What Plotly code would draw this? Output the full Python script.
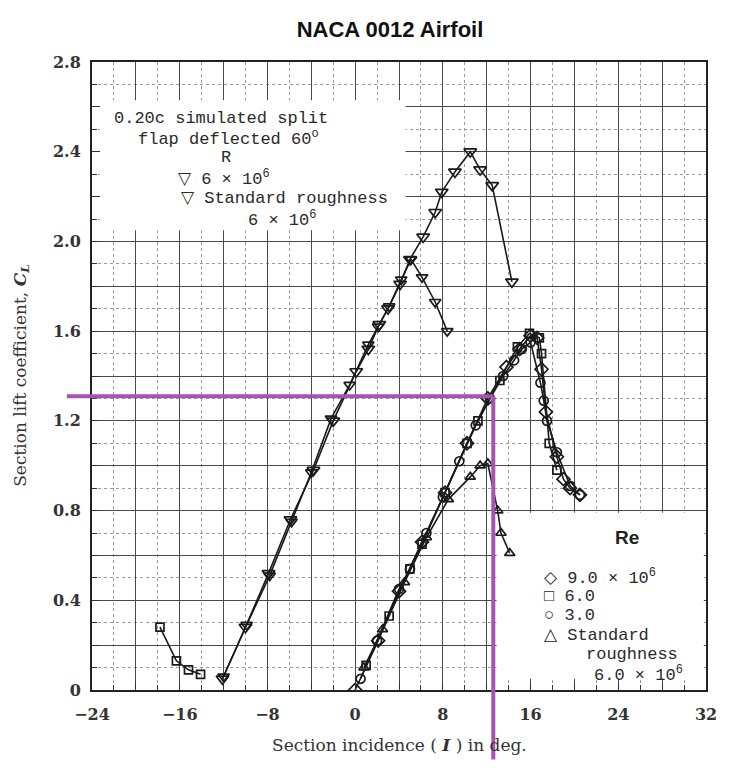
import plotly.graph_objects as go

# ---------------- data ----------------
# 0.20c split flap deflected 60 deg, R = 6e6 (smooth)
flap_alpha = [-12.1, -10.0, -7.9, -5.9, -3.8, -2.0, 0.1, 1.2, 2.2, 3.0, 4.1, 5.0, 6.2, 7.3, 7.9, 9.1, 10.5, 11.4, 12.5, 14.3]
flap_cl = [0.05, 0.28, 0.52, 0.76, 0.98, 1.20, 1.42, 1.52, 1.63, 1.70, 1.81, 1.92, 2.02, 2.13, 2.22, 2.31, 2.40, 2.32, 2.25, 1.82]
# flap, standard roughness 6e6
flapr_alpha = [-12.0, -9.9, -7.8, -5.8, -4.0, -2.2, -0.5, 1.2, 2.1, 3.1, 4.2, 5.1, 6.1, 7.3, 8.4]
flapr_cl = [0.06, 0.29, 0.51, 0.75, 0.97, 1.21, 1.36, 1.54, 1.62, 1.71, 1.83, 1.92, 1.84, 1.73, 1.60]

# plain airfoil
re9_alpha = [0.0, 2.1, 4.0, 6.1, 8.2, 10.2, 12.1, 13.8, 15.0, 16.0, 16.6, 17.0, 17.4, 18.4, 19.0, 19.6, 20.5]
re9_cl = [0.0, 0.22, 0.44, 0.66, 0.88, 1.10, 1.30, 1.44, 1.52, 1.58, 1.57, 1.43, 1.24, 1.04, 0.94, 0.90, 0.87]
re6_alpha = [-17.8, -16.3, -15.2, -14.1, None, 1.0, 3.1, 5.0, 6.1, 8.2, 10.2, 11.2, 13.2, 14.8, 15.9, 16.8, 17.0, 17.7, 18.4]
re6_cl = [0.28, 0.13, 0.09, 0.07, None, 0.11, 0.33, 0.54, 0.65, 0.88, 1.10, 1.20, 1.38, 1.53, 1.59, 1.57, 1.50, 1.10, 0.98]
re3_alpha = [0.5, 2.0, 4.0, 5.0, 6.5, 8.0, 9.5, 11.0, 12.3, 13.5, 14.5, 15.2, 16.0, 16.9, 17.2, 17.5, 18.4, 19.6, 20.5]
re3_cl = [0.05, 0.22, 0.45, 0.54, 0.70, 0.86, 1.02, 1.18, 1.30, 1.40, 1.47, 1.52, 1.55, 1.37, 1.29, 1.20, 1.06, 0.91, 0.87]
rough_alpha = [0.8, 2.5, 4.5, 6.5, 8.5, 10.5, 11.4, 12.1, 13.0, 13.3, 14.1]
rough_cl = [0.10, 0.27, 0.48, 0.68, 0.85, 0.95, 1.00, 1.01, 0.80, 0.70, 0.61]

x_ticks = [-24, -16, -8, 0, 8, 16, 24, 32]
x_ticklabels = ["\u221224", "\u221216", "\u22128", "0", "8", "16", "24", "32"]
y_ticks = [0, 0.4, 0.8, 1.2, 1.6, 2.0, 2.4, 2.8]
y_ticklabels = ["0", "0.4", "0.8", "1.2", "1.6", "2.0", "2.4", "2.8"]

# highlighted reading (purple lines)
mark_alpha = 12.6
mark_cl = 1.31

X_RANGE = [-24, 32]
Y_RANGE = [0, 2.8]

# ---------------- figure ----------------
ink = "#1a1a1a"
fig = go.Figure()

def add(xs, ys, symbol, size=10, name=""):
    fig.add_trace(go.Scatter(
        x=xs, y=ys, mode="lines+markers", name=name,
        line=dict(color=ink, width=1.6),
        marker=dict(symbol=symbol, size=size, color=ink,
                    line=dict(color=ink, width=1.7)),
        showlegend=False, connectgaps=False))

add(flap_alpha, flap_cl, "triangle-down-open", 11, "flap 6e6")
add(flapr_alpha, flapr_cl, "triangle-down-open", 10, "flap rough")
add(re9_alpha, re9_cl, "diamond-open", 10, "9e6")
add(re6_alpha, re6_cl, "square-open", 8, "6e6")
add(re3_alpha, re3_cl, "circle-open", 9, "3e6")
add(rough_alpha, rough_cl, "triangle-up-open", 9, "rough")

# grid tick positions
major_x = list(range(-24, 33, 4))
major_y = [round(0.2 * i, 1) for i in range(15)]
minor_x = [v for v in range(-24, 33, 2) if v % 4 != 0]
minor_y = [round(0.1 * i, 1) for i in range(29) if i % 2 == 1]

xlab = {v: t for v, t in zip(x_ticks, x_ticklabels)}
ylab = {v: t for v, t in zip(y_ticks, y_ticklabels)}

tickfont = dict(family="DejaVu Serif", size=16, color="#333")

def bold(t):
    return "<b>" + t + "</b>" if t else ""

fig.update_xaxes(
    range=X_RANGE, tickmode="array", tickvals=major_x,
    ticktext=[bold(xlab.get(v, "")) for v in major_x],
    showgrid=True, gridcolor="#4a4a4a", gridwidth=1.4,
    minor=dict(tickvals=minor_x, showgrid=True, gridcolor="#9a9a9a",
               griddash="dot", gridwidth=1, ticks="inside", ticklen=5, tickcolor="#333"),
    ticks="inside", ticklen=8, tickcolor="#333",
    showline=True, linecolor="#222", linewidth=2, mirror=True,
    zeroline=False, tickfont=tickfont, ticklabelstandoff=9)
fig.update_yaxes(
    range=Y_RANGE, tickmode="array", tickvals=major_y,
    ticktext=[bold(ylab.get(v, "")) for v in major_y],
    showgrid=True, gridcolor="#4a4a4a", gridwidth=1.4,
    minor=dict(tickvals=minor_y, showgrid=True, gridcolor="#9a9a9a",
               griddash="dot", gridwidth=1, ticks="inside", ticklen=5, tickcolor="#333"),
    ticks="inside", ticklen=8, tickcolor="#333",
    showline=True, linecolor="#222", linewidth=2, mirror=True,
    zeroline=False, tickfont=tickfont, ticklabelstandoff=6)

# white text boxes over the grid (between grid and traces)
fig.add_shape(type="rect", xref="x", yref="y", x0=-23.3, x1=4.6, y0=2.05, y1=2.63,
              fillcolor="white", line_width=0, layer="between")
fig.add_shape(type="rect", xref="x", yref="y", x0=12.9, x1=31.8, y0=0.05, y1=0.79,
              fillcolor="white", line_width=0, layer="between")

# purple marker lines (paper coords derived from axis ranges)
def px(a):
    return (a - X_RANGE[0]) / (X_RANGE[1] - X_RANGE[0])
def py(c):
    return (c - Y_RANGE[0]) / (Y_RANGE[1] - Y_RANGE[0])

purple = "#a555b0"
fig.add_shape(type="line", xref="paper", yref="paper",
              x0=px(-26.3), x1=px(mark_alpha), y0=py(mark_cl), y1=py(mark_cl),
              line=dict(color=purple, width=4), layer="above")
fig.add_shape(type="line", xref="paper", yref="paper",
              x0=px(mark_alpha), x1=px(mark_alpha), y0=py(mark_cl), y1=py(-0.31),
              line=dict(color=purple, width=4), layer="above")

mono = dict(family="Liberation Mono", size=17, color="#2a2a2a")

def note(x, y, text, anchor="left", font=mono):
    fig.add_annotation(x=x, y=y, xref="x", yref="y", text=text, showarrow=False,
                       xanchor=anchor, yanchor="middle", font=font)

note(-22.2, 2.55, "0.20c simulated split")
note(-20.0, 2.46, "flap deflected 60<sup>o</sup>")
note(-11.8, 2.375, "R", anchor="center")
note(-16.3, 2.285, "\u25bd 6 \u00d7 10<sup>6</sup>")
note(-16.1, 2.19, "\u25bd Standard roughness")
note(-10.0, 2.10, "6 \u00d7 10<sup>6</sup>")

note(24.8, 0.68, "<b>Re</b>", anchor="center",
     font=dict(family="Liberation Sans", size=19, color="#222"))
note(17.0, 0.505, "\u25c7 9.0 \u00d7 10<sup>6</sup>")
note(17.0, 0.415, "\u25a1 6.0")
note(17.0, 0.33, "\u25cb 3.0")
note(17.0, 0.245, "\u25b3 Standard")
note(20.9, 0.16, "roughness")
note(21.6, 0.072, "6.0 \u00d7 10<sup>6</sup>")

# axis titles
fig.add_annotation(xref="paper", yref="paper", x=0.5, y=-0.068, yanchor="top",
                   text="Section incidence ( <b><i>I</i></b> ) in deg.", showarrow=False,
                   font=dict(family="DejaVu Serif", size=17, color="#333"))
fig.add_annotation(xref="paper", yref="paper", x=-0.116, y=0.5, textangle=-90,
                   xanchor="center", yanchor="middle",
                   text="Section lift coefficient, <b><i>C<sub>L</sub></i></b>", showarrow=False,
                   font=dict(family="DejaVu Serif", size=17, color="#333"))

fig.update_layout(
    width=729, height=770,
    margin=dict(l=92, r=15, t=62, b=80),
    paper_bgcolor="white", plot_bgcolor="white",
    title=dict(text="<b>NACA 0012 Airfoil</b>", x=0.535, xanchor="center", y=0.972,
               font=dict(family="Liberation Sans", size=22, color="#111")),
    showlegend=False,
)

fig.write_html("out.html")
